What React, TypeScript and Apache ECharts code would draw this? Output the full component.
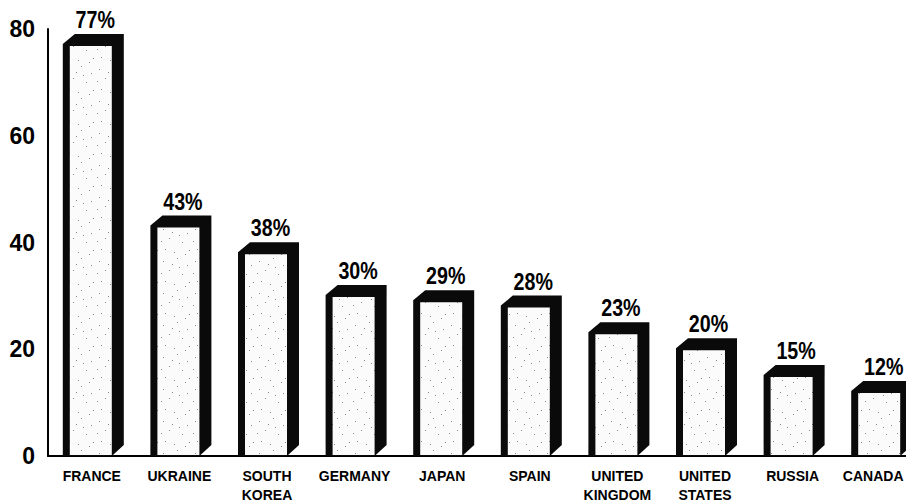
import React, { useEffect, useRef } from "react";
import * as echarts from "echarts";

const countries = ["FRANCE", "UKRAINE", "SOUTH\nKOREA", "GERMANY", "JAPAN", "SPAIN", "UNITED\nKINGDOM", "UNITED\nSTATES", "RUSSIA", "CANADA"];
const shares = [77, 43, 38, 30, 29, 28, 23, 20, 15, 12];
const yTicks = { min: 0, max: 80, interval: 20 };

const FONT = "'Liberation Sans', Arial, sans-serif";

function makeStipple(): any {
  const c = document.createElement("canvas");
  c.width = 32;
  c.height = 32;
  const g = c.getContext("2d")!;
  g.fillStyle = "#fbfbfb";
  g.fillRect(0, 0, 32, 32);
  const dots = [[3, 5], [17, 2], [27, 9], [9, 14], [22, 18], [5, 25], [14, 28], [29, 26], [12, 8], [25, 30], [1, 17], [19, 11]];
  g.fillStyle = "#8a8a8a";
  dots.forEach(([x, y]) => g.fillRect(x, y, 1, 1));
  return { image: c, repeat: "repeat" };
}

export default function App() {
  const ref = useRef<HTMLDivElement>(null);
  useEffect(() => {
    document.body.style.margin = "0";
    document.body.style.overflow = "hidden";
    const chart = echarts.init(ref.current!, null, { renderer: "svg" });
    const stipple = makeStipple();
    chart.setOption({
      animation: false,
      backgroundColor: "#ffffff",
      grid: { left: 48, top: 29, bottom: 47, width: 876 },
      xAxis: {
        type: "category",
        data: countries,
        axisLine: { show: true, lineStyle: { color: "#000", width: 2 } },
        axisTick: { show: false },
        axisLabel: {
          color: "#000",
          fontFamily: FONT,
          fontWeight: "bold",
          fontSize: 14,
          lineHeight: 19,
          margin: 10,
          interval: 0,
          formatter: (val: string, i: number) => (i === countries.length - 1 ? "{last|" + val + "}" : val),
          rich: {
            last: {
              fontFamily: FONT,
              fontWeight: "bold",
              fontSize: 14,
              color: "#000",
              padding: [0, 14, 0, 0],
            },
          },
        },
      },
      yAxis: {
        type: "value",
        min: yTicks.min,
        max: yTicks.max,
        interval: yTicks.interval,
        splitLine: { show: false },
        axisLine: { show: true, lineStyle: { color: "#000", width: 2 } },
        axisTick: { show: false },
        axisLabel: {
          color: "#000",
          fontFamily: FONT,
          fontWeight: "bold",
          fontSize: 23,
          margin: 13,
        },
      },
      series: [
        {
          type: "custom",
          clip: false,
          encode: { x: 0, y: 1 },
          data: shares.map((v, i) => [i, v]),
          renderItem: (params: any, api: any) => {
            const idx = api.value(0);
            const v = api.value(1);
            const top = api.coord([idx, v]);
            const base = api.coord([idx, 0]);
            const cx = top[0];
            const fw = 49;
            const d = 12;
            const h = 11;
            const fx = cx - 29;
            const ty = top[1];
            const by = base[1];
            return {
              type: "group",
              children: [
                {
                  type: "polygon",
                  shape: {
                    points: [
                      [fx, by],
                      [fx, ty - 1],
                      [fx + d, ty - h],
                      [fx + fw + d, ty - h],
                      [fx + fw + d, by - h],
                      [fx + fw, by],
                    ],
                  },
                  style: { fill: "#0a0a0a" },
                },
                {
                  type: "rect",
                  shape: { x: fx + 7, y: ty + 1, width: fw - 7, height: by - ty - 2 },
                  style: { fill: stipple },
                },
                {
                  type: "text",
                  x: fx + (fw + d) / 2 + 2,
                  y: ty - h - 2,
                  scaleX: 0.82,
                  style: {
                    text: v + "%",
                    x: 0,
                    y: 0,
                    align: "center",
                    verticalAlign: "bottom",
                    fontFamily: FONT,
                    fontWeight: "bold",
                    fontSize: 24,
                    fill: "#000",
                  },
                },
              ],
            };
          },
        },
      ],
    });
    return () => chart.dispose();
  }, []);
  return (
    <div style={{ width: 906, height: 504, overflow: "hidden" }}>
      <div ref={ref} style={{ width: 940, height: 504 }} />
    </div>
  );
}
